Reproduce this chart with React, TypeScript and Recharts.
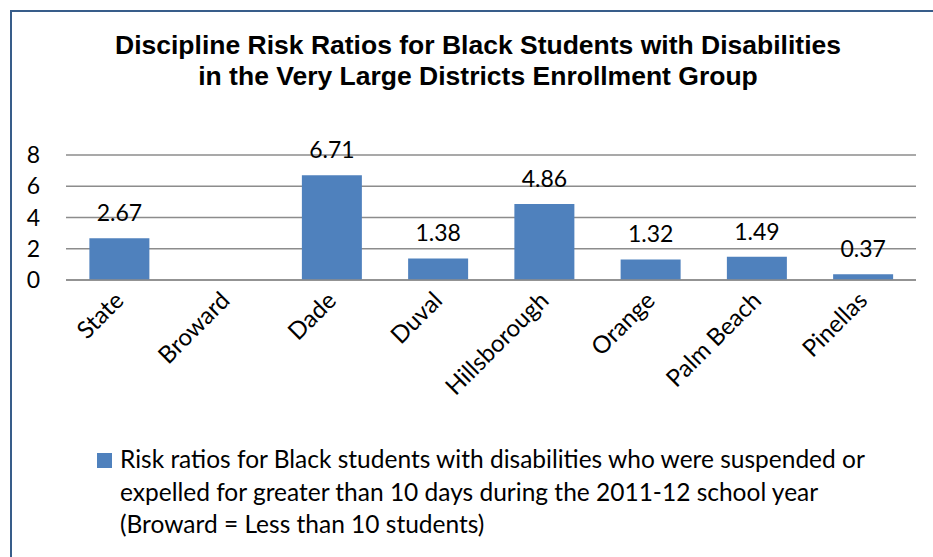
import { BarChart, Bar, XAxis, YAxis, CartesianGrid, LabelList, Legend } from "recharts";

const districts = ["State", "Broward", "Dade", "Duval", "Hillsborough", "Orange", "Palm Beach", "Pinellas"];
const riskRatios = [2.67, null, 6.71, 1.38, 4.86, 1.32, 1.49, 0.37];
const yTicks = [0, 2, 4, 6, 8];
const seriesName =
  "Risk ratios for Black students with disabilities who were suspended or expelled for greater than 10 days during the 2011-12 school year (Broward = Less than 10 students)";

const data = districts.map((name, i) => ({ name, value: riskRatios[i] }));

const BLUE = "#4F81BD";
const FONT = "Lato, 'Noto Sans', sans-serif";

// rotated category labels, anchored at their right end
function AngledTick(props: any) {
  const { x, y, payload } = props;
  const ax = x + 6;
  const ay = y + 14;
  return (
    <text
      x={ax}
      y={ay}
      transform={`rotate(-45, ${ax}, ${ay})`}
      textAnchor="end"
      fontSize={24}
      fontFamily={FONT}
      fill="#000"
    >
      {payload.value}
    </text>
  );
}

function LegendBox() {
  return (
    <div style={{ height: 117, position: "relative", fontFamily: FONT, fontSize: 24.5, color: "#000" }}>
      <span
        style={{ position: "absolute", left: 87, top: 13, width: 15, height: 15, background: BLUE }}
      />
      <div style={{ position: "absolute", left: 110, top: 3, width: 800, lineHeight: "32.5px", textAlign: "left", whiteSpace: "nowrap" }}>
        Risk ratios for Black students with disabilities who were suspended or
        <br />
        expelled for greater than 10 days during the 2011-12 school year
        <br />
        (Broward = Less than 10 students)
      </div>
    </div>
  );
}

export default function App() {
  return (
    <div
      style={{
        position: "absolute",
        left: 0,
        top: 0,
        width: 933,
        height: 557,
        overflow: "hidden",
        background: "#fff",
      }}
    >
      <div
        style={{
          position: "absolute",
          left: 10,
          top: 10,
          width: 960,
          height: 600,
          border: "2px solid #385D8A",
        }}
      />
      <div
        style={{
          position: "absolute",
          left: 0,
          top: 30,
          width: 956,
          textAlign: "center",
          fontFamily: "'Liberation Sans', Arial, sans-serif",
          fontWeight: "bold",
          fontSize: 26.5,
          lineHeight: "31px",
          color: "#000",
        }}
      >
        Discipline Risk Ratios for Black Students with Disabilities
        <br />
        in the Very Large Districts Enrollment Group
      </div>
      <div style={{ position: "absolute", left: 0, top: 0 }}>
        <BarChart
          width={933}
          height={557}
          data={data}
          margin={{ top: 155, right: 17, bottom: 0, left: 10 }}
          barCategoryGap="22%"
        >
          <CartesianGrid vertical={false} stroke="#8C8C8C" strokeWidth={1.5} />
          <XAxis
            dataKey="name"
            interval={0}
            height={160}
            tickLine={false}
            axisLine={{ stroke: "#8C8C8C", strokeWidth: 1.5 }}
            tick={<AngledTick />}
          />
          <YAxis
            domain={[0, 8]}
            ticks={yTicks}
            interval={0}
            width={56}
            axisLine={false}
            tickLine={false}
            tickMargin={20}
            tick={{ fontSize: 23, fontFamily: FONT, fill: "#000" }}
          />
          <Legend verticalAlign="bottom" align="left" content={() => <LegendBox />} />
          <Bar dataKey="value" name={seriesName} fill={BLUE} isAnimationActive={false}>
            <LabelList
              dataKey="value"
              position="top"
              offset={17}
              formatter={(v: any) => (v == null ? "" : Number(v).toFixed(2))}
              style={{ fontSize: 23, fontFamily: FONT, fill: "#000" }}
            />
          </Bar>
        </BarChart>
      </div>
    </div>
  );
}
